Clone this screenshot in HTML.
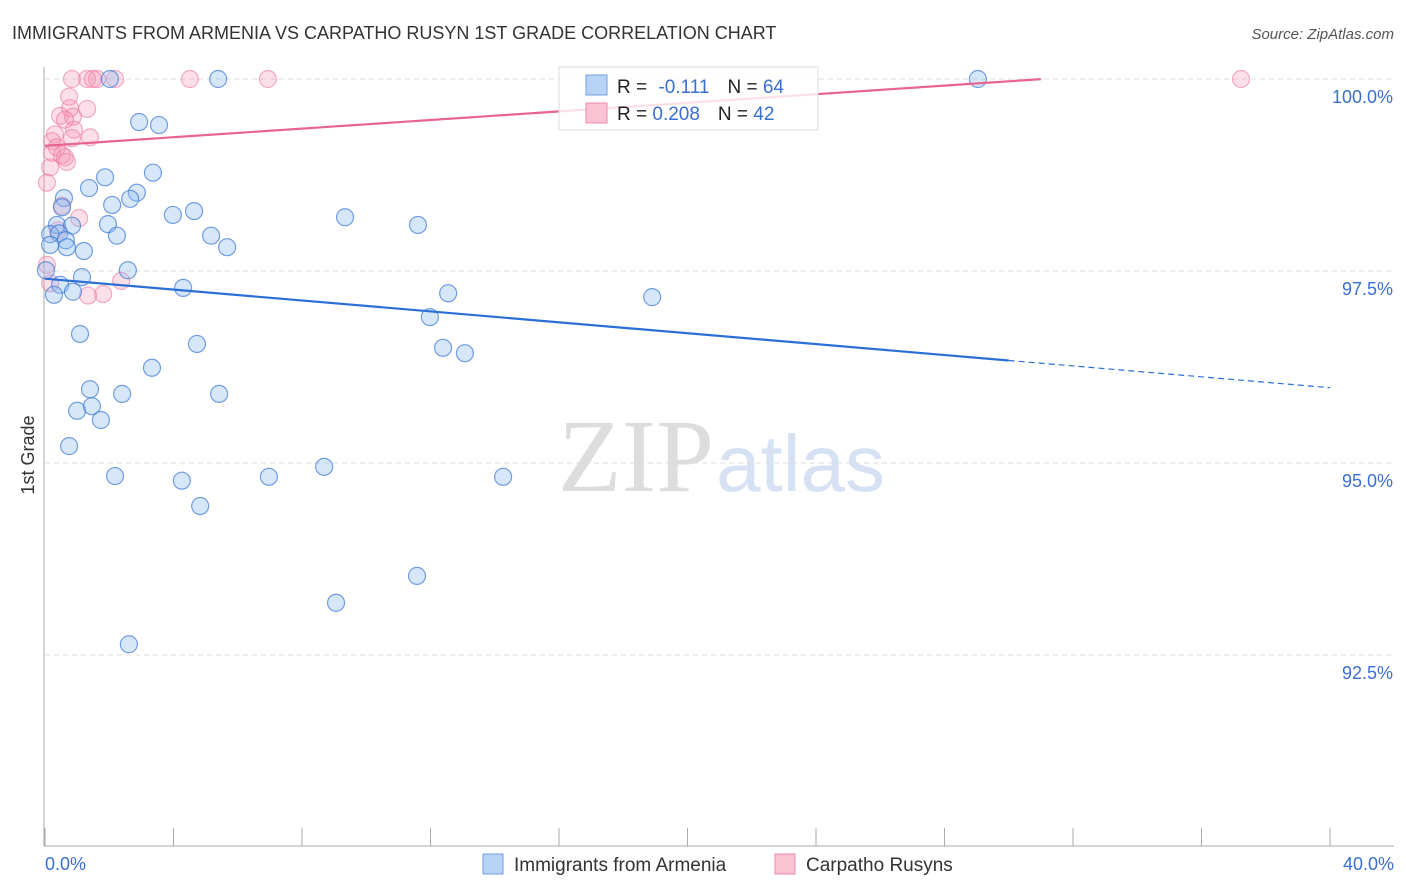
<!DOCTYPE html>
<html><head><meta charset="utf-8"><style>
body{margin:0;background:#fff;font-family:"Liberation Sans",sans-serif;}
#wrap{position:relative;width:1406px;height:892px;overflow:hidden;}
</style></head><body>
<div id="wrap">
<svg id="svg" width="1406" height="892" xmlns="http://www.w3.org/2000/svg">
<text x="12" y="39" font-size="18" fill="#333">IMMIGRANTS FROM ARMENIA VS CARPATHO RUSYN 1ST GRADE CORRELATION CHART</text>
<text x="1394" y="39" font-size="15" fill="#555" font-style="italic" text-anchor="end">Source: ZipAtlas.com</text>
<text x="34" y="455" font-size="18" fill="#333" text-anchor="middle" transform="rotate(-90 34 455)">1st Grade</text>
<text x="714" y="491" font-size="104" fill="#ddd" font-family="Liberation Serif,serif" text-anchor="end">ZIP</text>
<text x="716" y="491" font-size="80" fill="#d6e2f4" text-anchor="start">atlas</text>
<g id="grid"></g>
<g id="pts"></g>
<g id="lines"></g>
<g>
<rect x="559" y="67" width="259" height="63" fill="rgba(255,255,255,0.8)" stroke="#ddd"/>
<rect x="586" y="75" width="21" height="20" fill="#b8d3f5" stroke="#6f9fe0"/>
<rect x="586" y="103" width="21" height="20" fill="#f9c3d3" stroke="#ee8aa8"/>
<text x="617" y="93" font-size="19" fill="#222">R = <tspan fill="#3a6fd0" dx="6">-0.111</tspan><tspan fill="#222" dx="18">N = </tspan><tspan fill="#3a6fd0">64</tspan></text>
<text x="617" y="120" font-size="19" fill="#222">R = <tspan fill="#3a6fd0">0.208</tspan><tspan fill="#222" dx="18">N = </tspan><tspan fill="#3a6fd0">42</tspan></text>
</g>
<g>
<rect x="483" y="854" width="20" height="20" fill="#b8d3f5" stroke="#6f9fe0"/>
<text x="514" y="871" font-size="19" fill="#333">Immigrants from Armenia</text>
<rect x="775" y="854" width="20" height="20" fill="#f9c3d3" stroke="#ee8aa8"/>
<text x="806" y="871" font-size="19" fill="#333">Carpatho Rusyns</text>
</g>
</svg>
</div>
<script>
const xTicks=[0,4,8,12,16,20,24,28,32,36,40];
const yTicks=[100,97.5,95,92.5];
const yTickLabels=["100.0%","97.5%","95.0%","92.5%"];
const blueX=[2.02,5.39,29.04,2.93,3.55,3.36,1.37,1.87,0.59,2.86,2.65,2.09,3.98,4.64,9.34,11.61,0.53,0.37,0.84,1.96,0.16,0.44,2.24,5.17,5.67,0.65,1.21,0.68,2.58,1.15,0.47,0.28,0.87,4.30,12.55,18.90,11.98,1.09,4.73,12.39,13.07,3.33,1.40,2.40,5.42,1.00,1.46,1.74,0.75,2.18,4.26,6.97,8.69,14.26,4.83,11.58,9.06,2.61,0.03,0.16];
const blueY=[100,100,100,99.44,99.40,98.78,98.58,98.72,98.45,98.52,98.44,98.36,98.23,98.28,98.20,98.10,98.33,98.10,98.09,98.11,97.98,97.99,97.96,97.96,97.81,97.90,97.76,97.81,97.51,97.42,97.32,97.19,97.23,97.28,97.21,97.16,96.90,96.68,96.55,96.50,96.43,96.24,95.96,95.90,95.90,95.68,95.74,95.56,95.22,94.83,94.77,94.82,94.95,94.82,94.44,93.53,93.18,92.64,97.51,97.84];
const pinkX=[0.84,1.31,1.62,1.49,2.18,4.51,6.94,37.23,0.75,0.78,1.31,0.47,0.87,0.62,0.90,0.31,1.40,0.84,0.22,0.37,0.22,0.53,0.62,0.68,0.16,0.06,0.53,1.06,0.40,0.06,2.37,1.34,1.81,0.16];
const pinkY=[100,100,100,100,100,100,100,100,99.77,99.62,99.61,99.52,99.51,99.47,99.34,99.28,99.24,99.23,99.19,99.11,99.04,99.01,98.98,98.92,98.85,98.65,98.35,98.19,98.03,97.58,97.37,97.18,97.20,97.34];
const blueTrend=[97.40,95.98];
const pinkTrend=[99.13,100.25];
const NS="http://www.w3.org/2000/svg";
const X=v=>45+v/40*1285;
const Y=v=>79+(100-v)/2.5*192;
function mk(t,a,p){const e=document.createElementNS(NS,t);for(const k in a)e.setAttribute(k,a[k]);p.appendChild(e);return e;}
const grid=document.getElementById('grid');
yTicks.forEach((t,i)=>{
 const l=mk('line',{x1:45,x2:1394,y1:Y(t),y2:Y(t),stroke:'#ddd','stroke-dasharray':'5,4'},grid);
 
 
 const tx=mk('text',{x:1393,y:Y(t)+24,'font-size':18,fill:'#3a6fd0','text-anchor':'end'},grid);
 tx.textContent=yTickLabels[i];
 
 
});
const ax=mk('line',{x1:44,x2:44,y1:67,y2:846,stroke:'#aaa'},grid);


const bx=mk('line',{x1:44,x2:1394,y1:846,y2:846,stroke:'#aaa'},grid);


xTicks.forEach(t=>{
 const l=mk('line',{x1:X(t),x2:X(t),y1:828,y2:846,stroke:'#aaa'},grid);
 
 
});
const xl0=mk('text',{x:45,y:870,'font-size':18,fill:'#3a6fd0'},grid);xl0.textContent='0.0%';


const xl1=mk('text',{x:1394,y:870,'font-size':18,fill:'#3a6fd0','text-anchor':'end'},grid);xl1.textContent='40.0%';


const pts=document.getElementById('pts');
pinkX.forEach((x,i)=>{
 const c=mk('circle',{cx:X(x),cy:Y(pinkY[i]),r:8.5,fill:'rgba(245,150,180,0.3)',stroke:'rgba(236,120,158,0.6)','stroke-width':1.2},pts);
 
 
});
blueX.forEach((x,i)=>{
 const c=mk('circle',{cx:X(x),cy:Y(blueY[i]),r:8.5,fill:'rgba(140,185,240,0.35)',stroke:'rgba(60,120,210,0.7)','stroke-width':1.2},pts);
 
 
});
const lines=document.getElementById('lines');
const bv=x=>blueTrend[0]+(blueTrend[1]-blueTrend[0])*x/40;
const b1=mk('line',{x1:X(0),y1:Y(bv(0)),x2:X(30),y2:Y(bv(30)),stroke:'#2a6fd6','stroke-width':2.2},lines);


const b2=mk('line',{x1:X(30),y1:Y(bv(30)),x2:X(40),y2:Y(bv(40)),stroke:'#2a6fd6','stroke-width':1.2,'stroke-dasharray':'6,4'},lines);


const pv=x=>Math.min(100,pinkTrend[0]+(pinkTrend[1]-pinkTrend[0])*x/40);
let d='';for(let x=0;x<=31;x+=0.5)d+=(x?'L':'M')+X(x)+','+Y(pv(x));
const p1=mk('path',{d:d,fill:'none',stroke:'#e8638e','stroke-width':2.2},lines);


</script>
</body></html>
